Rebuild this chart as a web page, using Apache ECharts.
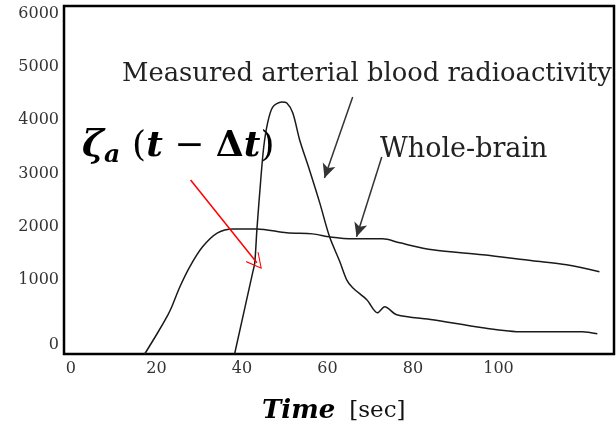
<!DOCTYPE html>
<html><head><meta charset="utf-8">
<script src="https://cdn.jsdelivr.net/npm/echarts@6/dist/echarts.min.js"></script>
<style>html,body{margin:0;padding:0;background:#fff}#c{width:616px;height:430px}</style>
</head><body><div id="c"></div>
<script>
// Measured arterial blood radioactivity [time(sec), value]
const arterialX = [38.3,42.5,43.0,43.5,44.4,45.1,46.0,47.2,49.3,50.5,51.9,53.5,55.8,58.2,60.5,62.9,64.5,65.9,69.2,71.7,73.4,76.2,84.6,96.3,105.6,119.6,123.1];
const arterialY = [-395,1128,1316,1936,2876,3496,3947,4248,4342,4323,4135,3628,3064,2444,1805,1335,996,846,620,376,489,338,244,94,19,19,-19];
// Whole-brain curve
const brainX = [17.3,20.3,22.7,23.6,25.5,27.8,30.8,34.3,37.9,43.5,50.5,56.5,60.5,65.9,72.9,76.9,84.6,96.3,107.9,115.9,123.6];
const brainY = [-395,0,338,489,865,1241,1617,1880,1955,1955,1880,1861,1805,1767,1767,1692,1560,1466,1353,1278,1147];
// tick labels
const xTicks = [0,20,40,60,80,100];
const yTicks = [0,1000,2000,3000,4000,5000,6000];
// annotation arrows (data coords) [x1,y1,x2,y2]
const arrowArterial = [65.9,4436,59.3,2914];
const arrowBrain = [72.7,3308,66.8,1805];
const arrowRed = [28.0,2876,43.5,1316];

const zip = (a,b)=>a.map((v,i)=>[v,b[i]]);
const serif = '"DejaVu Serif", serif';
const chart = echarts.init(document.getElementById('c'));
const arrowLine = (a, color, sym, size) => ({
  silent:true, symbol:['none', sym], symbolSize:size,
  label:{show:false}, emphasis:{disabled:true},
  lineStyle:{color:color, width:1.5, type:'solid'},
  data:[[{coord:[a[0],a[1]]},{coord:[a[2],a[3]]}]]
});
chart.setOption({
  animation:false,
  backgroundColor:'#fff',
  grid:{left:64, top:6, right:2, bottom:76, show:true, borderColor:'#000', borderWidth:2.5, backgroundColor:'transparent'},
  xAxis:{type:'value', min:-1.6, max:127,
    axisLine:{show:false}, axisTick:{show:false}, splitLine:{show:false},
    axisLabel:{customValues:xTicks, margin:7, fontFamily:serif, fontSize:16, color:'#333'}},
  yAxis:{type:'value', min:-400, max:6150,
    axisLine:{show:false}, axisTick:{show:false}, splitLine:{show:false},
    axisLabel:{customValues:yTicks, margin:5, fontFamily:serif, fontSize:16, color:'#333',
      formatter:v=> v===0 ? '{z|0}' : String(v),
      rich:{z:{fontFamily:serif, fontSize:16, color:'#333', padding:[24,0,0,0]}}}},
  series:[
    {type:'line', data:zip(arterialX,arterialY), smooth:0.3, showSymbol:false, silent:true,
      lineStyle:{color:'#1a1a1a', width:1.5},
      markLine:arrowLine(arrowArterial,'#333','arrow',[10,14])},
    {type:'line', data:zip(brainX,brainY), smooth:0.3, showSymbol:false, silent:true,
      lineStyle:{color:'#1a1a1a', width:1.5},
      markLine:arrowLine(arrowBrain,'#333','arrow',[10,14])},
    {type:'line', data:[], silent:true,
      markLine:arrowLine(arrowRed,'#ff0000','path://M10,0 L20,20 L19,21 L10,3 L1,21 L0,20 Z',[16,16])}
  ],
  graphic:[
    {type:'text', left:122, top:61, style:{text:'Measured arterial blood radioactivity', font:'25.8px '+serif, fill:'#222'}},
    {type:'text', left:380, top:136, style:{text:'Whole-brain', font:'27px '+serif, fill:'#222'}},
    {type:'text', left:82, top:128, style:{
      text:'{z|ζ}{s|a}{p|(}{t|t}{p| − }{d|Δ}{t|t}{p|)}',
      rich:{
        z:{fontFamily:serif, fontSize:37, fontWeight:'bold', fontStyle:'italic', fill:'#000'},
        s:{fontFamily:serif, fontSize:25, fontWeight:'bold', fontStyle:'italic', fill:'#000', padding:[18,12,0,0]},
        p:{fontFamily:serif, fontSize:36, fill:'#000'},
        d:{fontFamily:serif, fontSize:36, fontWeight:'bold', fill:'#000'},
        t:{fontFamily:serif, fontSize:36, fontWeight:'bold', fontStyle:'italic', fill:'#000'}
      }}},
    {type:'text', left:262, top:398, style:{
      text:'{b|Time}{r|[sec]}',
      rich:{
        b:{fontFamily:serif, fontSize:26, fontWeight:'bold', fontStyle:'italic', fill:'#000'},
        r:{fontFamily:serif, fontSize:23, fill:'#111', padding:[0,0,0,14]}
      }}}
  ]
});
</script></body></html>
